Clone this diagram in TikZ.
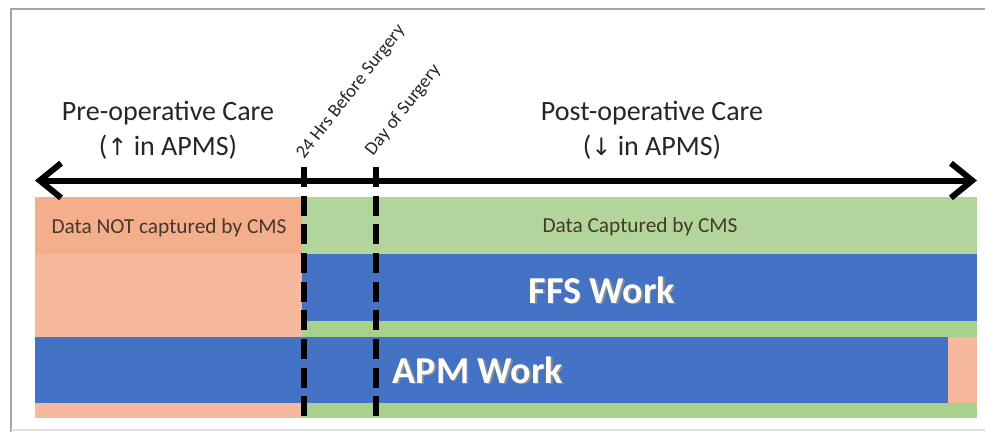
\documentclass[tikz,border=0pt]{standalone}
\usepackage{fontspec}
\setmainfont{Carlito}
\newfontfamily\arrowfont{DejaVu Sans}
\usetikzlibrary{arrows.meta}
\definecolor{orA}{HTML}{F4AE8C}
\definecolor{orB}{HTML}{F7B99E}
\definecolor{grA}{HTML}{B2D59C}
\definecolor{grB}{HTML}{A9D18E}
\definecolor{bl}{HTML}{4472C4}
\definecolor{txt}{HTML}{262626}
\begin{document}
\begin{tikzpicture}[x=0.75pt,y=-0.75pt,
  heading/.style={font=\fontsize{21}{25}\selectfont, text=txt, inner sep=0pt},
  smalllabel/.style={font=\fontsize{16}{19}\selectfont, text=txt!80!brown, inner sep=0pt},
  worklabel/.style={font=\bfseries\fontsize{28.5}{32}\selectfont, text=white, inner sep=0pt},
  shadowlabel/.style={font=\bfseries\fontsize{28.5}{32}\selectfont, text=black!45, inner sep=0pt},
  milestone/.style={font=\fontsize{14}{16}\selectfont, text=txt, rotate=52, anchor=base west, inner sep=0pt},
  marker/.style={line width=3.8pt, dash pattern=on 15pt off 6.5pt},
  timeline/.style={line width=4.5pt, {Straight Barb[length=16pt,width=26pt]}-{Straight Barb[length=16pt,width=26pt]}}
]
\useasboundingbox (0,0) rectangle (985,432);
\fill[white] (0,0) rectangle (985,432);
% frame
\draw[gray!70, line width=1.2pt] (11,432) -- (11,9) -- (985,9);
\draw[gray!25, line width=1.5pt] (11,430) -- (985,430);
% row 1
\fill[orA] (35,197) rectangle (302,254);
\fill[grA] (302,197) rectangle (977,254);
% row 2
\fill[orB] (35,254) rectangle (302,337);
\fill[bl] (302,254) rectangle (977,321);
\fill[grB] (302,321) rectangle (977,337);
% row 3
\fill[bl] (35,337) rectangle (948,403);
\fill[orB] (948,337) rectangle (977,403);
% row 4
\fill[orB] (35,403) rectangle (302,418);
\fill[grB] (302,403) rectangle (977,418);
% timeline
\coordinate (L) at (35,180.5);
\coordinate (R) at (977,180.5);
\draw[timeline] (L) -- (R);
% markers
\coordinate (m1t) at (304,167);
\coordinate (m1b) at (304,418);
\coordinate (m2t) at (376,167);
\coordinate (m2b) at (376,418);
\draw[marker] (m1t) -- (m1b);
\draw[marker] (m2t) -- (m2b);
% headings
\node[heading] (pre1) at (168,113) {Pre-operative Care};
\node[heading] (pre2) at (168,147) {({\arrowfont\fontsize{18}{21}\selectfont ↑} in APMS)};
\node[heading] (post1) at (652,113) {Post-operative Care};
\node[heading] (post2) at (652,147) {({\arrowfont\fontsize{18}{21}\selectfont ↓} in APMS)};
% milestones
\node[milestone] (hrs) at (304,160) {24 Hrs Before Surgery};
\node[milestone] (day) at (373,157) {Day of Surgery};
% band labels
\node[smalllabel] (notcap) at (169,228) {Data NOT captured by CMS};
\node[smalllabel] (cap) at (640,227) {Data Captured by CMS};
\node[shadowlabel] at (603.5,291.5) {FFS Work};
\node[worklabel] (ffs) at (602,290) {FFS Work};
\node[shadowlabel] at (479.5,371.5) {APM Work};
\node[worklabel] (apm) at (478,370) {APM Work};
\end{tikzpicture}
\end{document}
